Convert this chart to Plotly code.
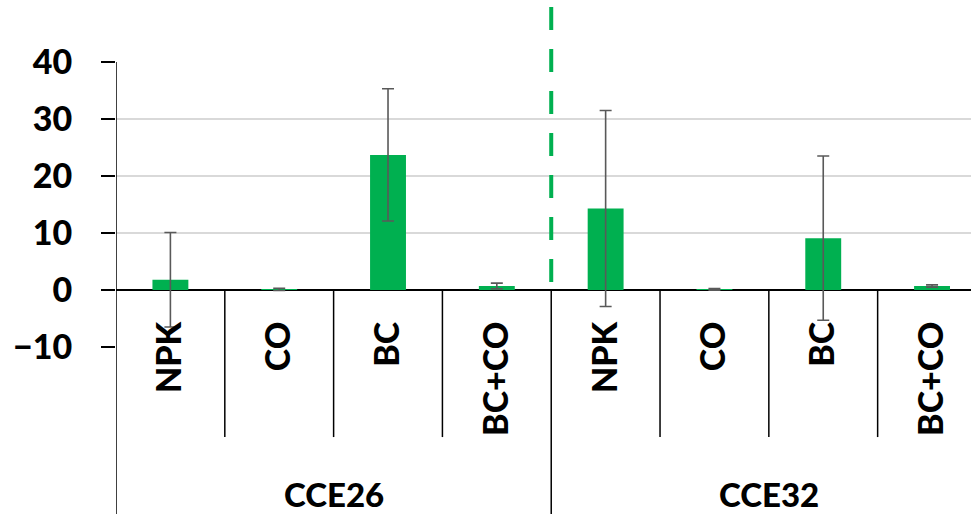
import plotly.graph_objects as go

groups = ["CCE26", "CCE32"]
treatments = ["NPK", "CO", "BC", "BC+CO", "NPK", "CO", "BC", "BC+CO"]
values = [1.8, 0.1, 23.7, 0.7, 14.3, 0.1, 9.1, 0.7]
errors = [8.3, 0.2, 11.6, 0.5, 17.2, 0.15, 14.4, 0.2]
y_ticks = [-10, 0, 10, 20, 30, 40]

GREEN = "#00B050"
FONT = "Lato"
W = 900
n = len(treatments)
xs = list(range(n))

fig = go.Figure()
fig.add_trace(go.Bar(
    x=xs, y=values, width=0.33,
    marker=dict(color=GREEN, line=dict(width=0)),
    error_y=dict(type="data", array=errors, visible=True,
                 color="#595959", thickness=1.6, width=6),
))

def ypaper(v):
    return (v - (-10)) / 50.0

shapes = []
shapes.append(dict(type="line", xref="x", yref="paper", x0=-0.5, x1=-0.5,
                   y0=1, y1=-0.586, line=dict(color="black", width=1.5)))
for i in range(1, n):
    y1 = -0.586 if i == n // 2 else -0.316
    shapes.append(dict(type="line", xref="x", yref="paper", x0=i - 0.5, x1=i - 0.5,
                       y0=ypaper(0), y1=y1, line=dict(color="black", width=1.5)))
shapes.append(dict(type="line", xref="x", yref="paper", x0=n / 2 - 0.5, x1=n / 2 - 0.5,
                   y0=1.193, y1=0.218, layer="above",
                   line=dict(color=GREEN, width=4, dash="23px,19px")))

annotations = []
for gi, g in enumerate(groups):
    annotations.append(dict(x=gi * 4 + 1.5, xref="x", y=-0.515, yref="paper",
                            text=g, showarrow=False, yanchor="middle",
                            font=dict(family=FONT, size=33, color="black", weight=W)))
annotations.append(dict(x=0.495, xref="paper", y=1.206, yref="paper", yanchor="bottom",
                        text="(μg N g⁻¹ soil day⁻¹) · N mineralization rate", showarrow=False,
                        font=dict(family=FONT, size=34, color="black", weight=W)))

fig.update_layout(
    width=971, height=514,
    margin=dict(l=116, r=0, t=62, b=167),
    paper_bgcolor="white", plot_bgcolor="white",
    showlegend=False,
    shapes=shapes, annotations=annotations,
    xaxis=dict(
        range=[-0.5, 7.358], tickvals=xs, ticktext=treatments, tickangle=-90,
        anchor="free", position=ypaper(0), showline=False, showgrid=False,
        zeroline=False, ticks="", ticklabelstandoff=24,
        tickfont=dict(family=FONT, size=34, color="black", weight=W),
    ),
    yaxis=dict(
        range=[-10, 40], tickvals=y_ticks, showgrid=True, gridcolor="#D9D9D9", gridwidth=1.5,
        zeroline=True, zerolinecolor="black", zerolinewidth=2,
        showline=False, ticks="outside", ticklen=14, tickwidth=1.5, tickcolor="black",
        ticklabelstandoff=22,
        tickfont=dict(family=FONT, size=34, color="black", weight=W),
    ),
)

fig.write_html("out.html")
